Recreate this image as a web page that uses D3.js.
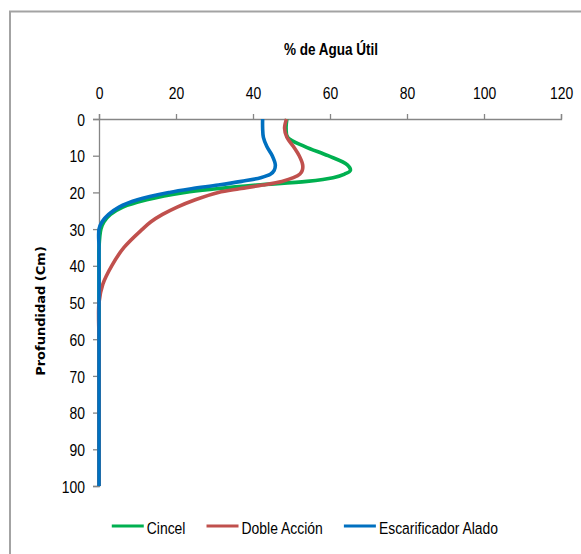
<!DOCTYPE html>
<html>
<head>
<meta charset="utf-8">
<script src="https://cdn.jsdelivr.net/npm/d3@7"></script>
<style>
  body { margin: 0; background: #fff; }
  svg { display: block; }
  .tick text { font-family: "Liberation Sans", Arial, sans-serif; font-size: 17px; fill: #000; }
  .axis path, .axis line { stroke: #868686; }
</style>
</head>
<body>
<svg class="chart" width="581" height="554"></svg>
<script>
(function(){
// depth (cm) of each reading
var depths = [0, 2.5, 5, 7.5, 10, 12.5, 14, 15, 16, 17, 18, 19, 20, 22, 24, 26, 28, 30, 35, 40, 45, 50, 60, 70, 80, 90, 100];

var cincel = [48.8, 48.6, 49.0, 53.5, 59.5, 64.5, 65.3, 63.8, 60.8, 54.0, 41.0, 30.6, 22.3, 12.4, 6.2, 3.0, 1.3, 0.5, 0, 0, 0, 0, 0, 0, 0, 0, 0];
var dobleAccion = [48.7, 48.2, 48.8, 50.5, 52.0, 52.9, 52.8, 52.2, 50.5, 47.5, 42.5, 36.5, 31.0, 25.0, 20.3, 16.5, 13.5, 11.3, 6.5, 3.3, 1.0, 0, 0, 0, 0, 0, 0];
var escarificador = [42.5, 42.5, 42.7, 43.6, 45.0, 45.8, 45.5, 44.6, 42.0, 37.0, 31.0, 24.0, 18.3, 10.0, 5.2, 2.5, 0.8, 0, 0, 0, 0, 0, 0, 0, 0, 0, 0];

var seriesNames = ["Cincel", "Doble Acción", "Escarificador Alado"];
var xTicks = [0, 20, 40, 60, 80, 100, 120];
var yTicks = [0, 10, 20, 30, 40, 50, 60, 70, 80, 90, 100];

var colors = ["#00B050", "#C0504D", "#0070C0"];
var allSeries = [cincel, dobleAccion, escarificador];

var narrow = 0.82; // squeeze Liberation Sans into a Calibri-like width
var margins = { top: 119, left: 99 };

var svg = d3.select('.chart');

function squeeze(sel){
  sel.each(function(){
    var t = d3.select(this);
    var x = +t.attr('x') || 0;
    t.attr('x', x / narrow).attr('transform', 'scale(' + narrow + ',1)');
  });
}

// outer chart frame (runs off the right and bottom edges)
svg.append('rect')
  .attr('x', 10).attr('y', 11.5)
  .attr('width', 700).attr('height', 700)
  .attr('fill', 'none')
  .attr('stroke', '#a3a3a3')
  .attr('stroke-width', 2);

var xScale = d3.scaleLinear().domain([0, 120]).range([margins.left, 561]);
var yScale = d3.scaleLinear().domain([0, 100]).range([margins.top, 486]);

var xAxis = d3.axisTop(xScale).tickValues(xTicks).tickSize(5).tickSizeOuter(5).tickPadding(15);
var yAxis = d3.axisLeft(yScale).tickValues(yTicks).tickSize(6).tickSizeOuter(6).tickPadding(8);

svg.append('g')
  .attr('class', 'axis xAxis')
  .attr('transform', 'translate(0,' + yScale(0) + ')')
  .call(xAxis);

svg.append('g')
  .attr('class', 'axis yAxis')
  .attr('transform', 'translate(' + xScale(0) + ',0)')
  .call(yAxis);

svg.selectAll('.axis path').attr('stroke-width', 1.3);
svg.selectAll('.axis line').attr('stroke-width', 1.3);
svg.selectAll('.yAxis .tick text').attr('dy', '0.36em');
squeeze(svg.selectAll('.tick text'));

// titles
svg.append('text')
  .attr('x', 331).attr('y', 55)
  .attr('text-anchor', 'middle')
  .style('font-family', '"Liberation Sans", sans-serif')
  .style('font-weight', 'bold')
  .style('font-size', '16.5px')
  .text('% de Agua Útil')
  .call(squeeze);

svg.append('text')
  .attr('transform', 'translate(45,311) rotate(-90)')
  .attr('text-anchor', 'middle')
  .style('font-family', '"DejaVu Sans", sans-serif')
  .style('font-weight', 'bold')
  .style('font-size', '13px')
  .text('Profundidad (Cm)');

// lines
var lineGen = d3.line()
  .x(function(d){ return xScale(d.v); })
  .y(function(d){ return yScale(d.depth); })
  .curve(d3.curveCatmullRom.alpha(0.5));

allSeries.forEach(function(values, i){
  var pts = depths.map(function(dp, j){ return { depth: dp, v: values[j] }; });
  svg.append('path')
    .attr('class', 'line')
    .attr('d', lineGen(pts))
    .attr('fill', 'none')
    .attr('stroke', colors[i])
    .attr('stroke-width', 3.6)
    .attr('stroke-linejoin', 'round');
});

// legend
var legend = svg.append('g').attr('class', 'legend');
var lx = 0;
seriesNames.forEach(function(name, i){
  var item = legend.append('g').attr('transform', 'translate(' + lx + ',0)');
  item.append('line')
    .attr('x1', 0).attr('x2', 32)
    .attr('y1', 0).attr('y2', 0)
    .attr('stroke', colors[i])
    .attr('stroke-width', 3);
  var t = item.append('text')
    .attr('x', 35).attr('y', 8)
    .style('font-family', '"Liberation Sans", sans-serif')
    .style('font-size', '17px')
    .text(name);
  var w = t.node().getComputedTextLength() * narrow;
  t.call(squeeze);
  lx += 35 + w + 21;
});
var legendW = lx - 21;
legend.attr('transform', 'translate(' + (305 - legendW / 2) + ',526)');
})();
</script>
</body>
</html>
